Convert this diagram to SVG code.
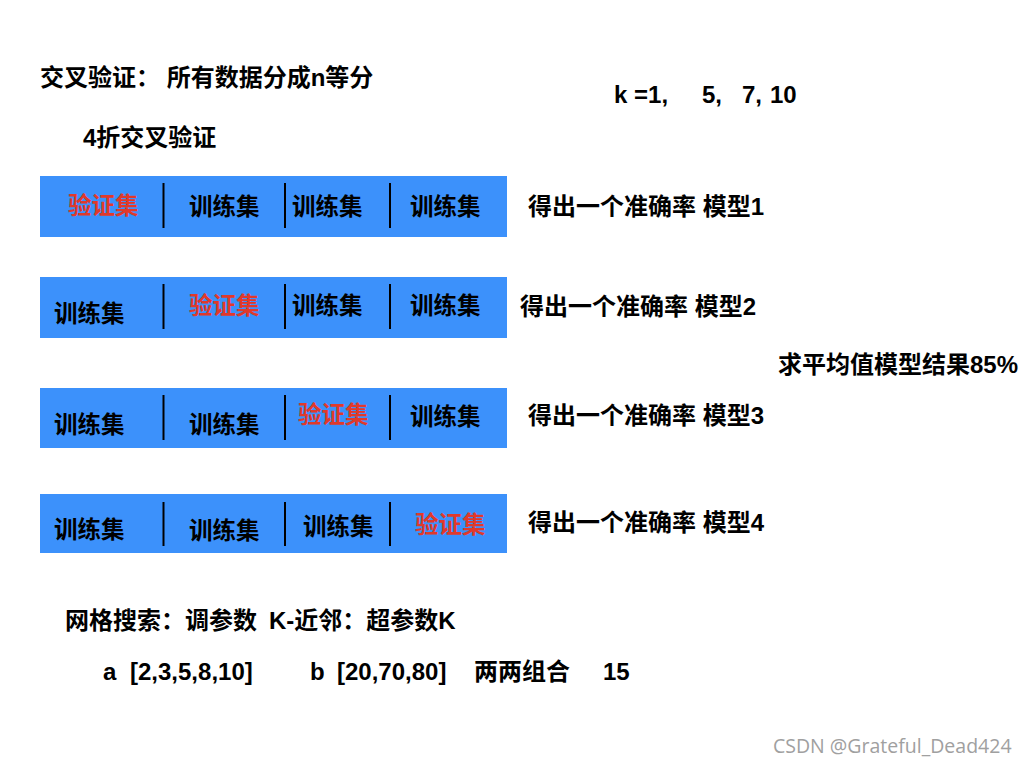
<svg xmlns="http://www.w3.org/2000/svg" width="1024" height="768" viewBox="0 0 1024 768">
<style>
text{font-family:"Liberation Sans","Noto Sans CJK SC",sans-serif;font-weight:bold;fill:#000}
.c{font-size:23.5px}
.v{font-size:23.5px;fill:#e0392b}
.l{font-size:24px}
.bar{fill:#3c91fb}
.div{stroke:#000;stroke-width:2}
.wm{font-family:"Open Sans","Liberation Sans",sans-serif;font-weight:normal;font-size:19.5px;fill:#a0a0a0}
</style>
<rect width="1024" height="768" fill="#fff"/>
<text class="l" x="40" y="86">交叉验证： 所有数据分成n等分</text>
<text class="l" x="83" y="146">4折交叉验证</text>
<text class="l" y="103" font-size="22"><tspan x="614">k =1,</tspan><tspan x="702">5,</tspan><tspan x="742">7,</tspan><tspan x="770">10</tspan></text>
<g id="row1">
<rect class="bar" x="40" y="176" width="467" height="61"/>
<line class="div" x1="163.5" y1="183" x2="163.5" y2="228"/>
<line class="div" x1="285" y1="183" x2="285" y2="228"/>
<line class="div" x1="390" y1="183" x2="390" y2="228"/>
<text class="v" x="68" y="214">验证集</text>
<text class="c" x="189" y="215">训练集</text>
<text class="c" x="292" y="215">训练集</text>
<text class="c" x="410" y="215">训练集</text>
<text class="l" x="528" y="215">得出一个准确率 模型1</text>
</g>
<g id="row2">
<rect class="bar" x="40" y="277" width="467" height="61"/>
<line class="div" x1="163.5" y1="284" x2="163.5" y2="329"/>
<line class="div" x1="285" y1="284" x2="285" y2="329"/>
<line class="div" x1="390" y1="284" x2="390" y2="329"/>
<text class="c" x="54" y="322">训练集</text>
<text class="v" x="189" y="314">验证集</text>
<text class="c" x="292" y="314">训练集</text>
<text class="c" x="410" y="314">训练集</text>
<text class="l" x="520" y="315">得出一个准确率 模型2</text>
</g>
<text class="l" x="778" y="373">求平均值模型结果85%</text>
<g id="row3">
<rect class="bar" x="40" y="388" width="467" height="60"/>
<line class="div" x1="163.5" y1="395" x2="163.5" y2="440"/>
<line class="div" x1="285" y1="395" x2="285" y2="440"/>
<line class="div" x1="390" y1="395" x2="390" y2="440"/>
<text class="c" x="54" y="433">训练集</text>
<text class="c" x="189" y="433">训练集</text>
<text class="v" x="298" y="423">验证集</text>
<text class="c" x="410" y="425">训练集</text>
<text class="l" x="528" y="424">得出一个准确率 模型3</text>
</g>
<g id="row4">
<rect class="bar" x="40" y="494" width="467" height="59"/>
<line class="div" x1="163.5" y1="502" x2="163.5" y2="546"/>
<line class="div" x1="285" y1="502" x2="285" y2="546"/>
<line class="div" x1="390" y1="502" x2="390" y2="546"/>
<text class="c" x="54" y="538">训练集</text>
<text class="c" x="189" y="539">训练集</text>
<text class="c" x="303" y="535">训练集</text>
<text class="v" x="415" y="533">验证集</text>
<text class="l" x="528" y="531">得出一个准确率 模型4</text>
</g>
<text class="l" y="629"><tspan x="65">网格搜索：调参数</tspan><tspan x="269">K-近邻：超参数K</tspan></text>
<text class="l" y="680"><tspan x="103">a</tspan><tspan x="130">[2,3,5,8,10]</tspan><tspan x="310">b</tspan><tspan x="337">[20,70,80]</tspan><tspan x="474">两两组合</tspan><tspan x="603">15</tspan></text>
<text class="wm" x="773" y="753">CSDN @Grateful_Dead424</text>
</svg>
